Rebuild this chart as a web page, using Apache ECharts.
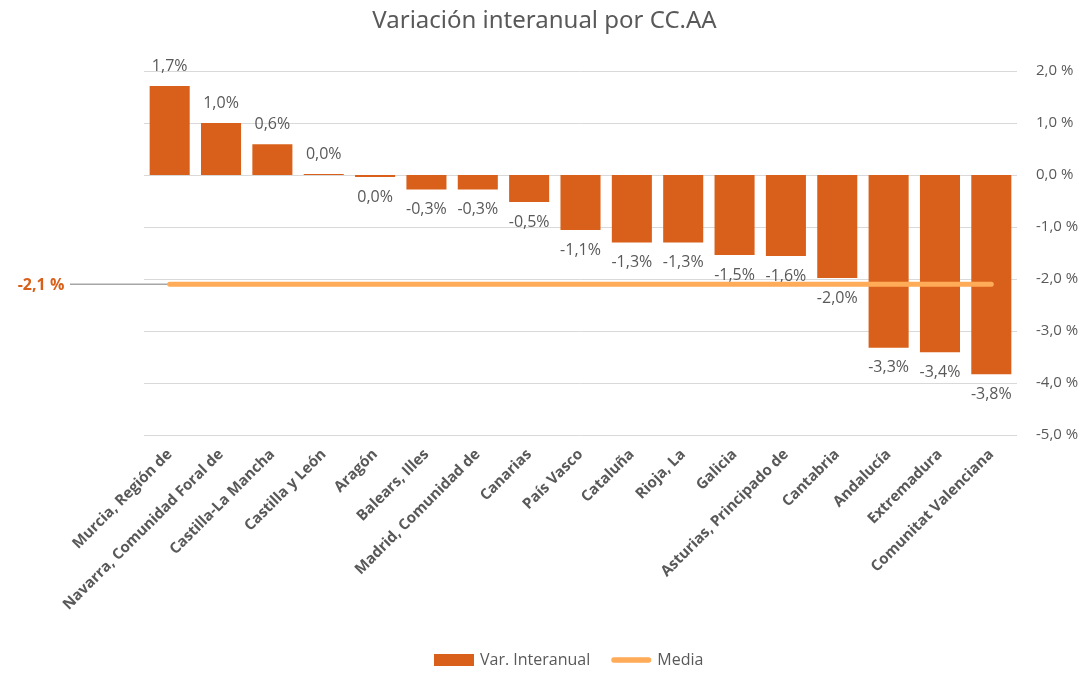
<!DOCTYPE html>
<html>
<head>
<meta charset="utf-8">
<script src="https://cdn.jsdelivr.net/npm/echarts@6/dist/echarts.min.js"></script>
<style>
  html, body { margin: 0; padding: 0; background: #fff; }
  #chart { width: 1089px; height: 675px; }
</style>
</head>
<body>
<div id="chart"></div>
<script>
// datos
var categorias = ['Murcia, Región de', 'Navarra, Comunidad Foral de', 'Castilla-La Mancha', 'Castilla y León',
    'Aragón', 'Balears, Illes', 'Madrid, Comunidad de', 'Canarias', 'País Vasco', 'Cataluña', 'Rioja, La',
    'Galicia', 'Asturias, Principado de', 'Cantabria', 'Andalucía', 'Extremadura', 'Comunitat Valenciana'];
var varInteranual = [1.71, 1.0, 0.59, 0.02, -0.04, -0.28, -0.28, -0.52, -1.06, -1.3, -1.3,
    -1.54, -1.56, -1.98, -3.32, -3.41, -3.83];
var media = [-2.1, -2.1, -2.1, -2.1, -2.1, -2.1, -2.1, -2.1, -2.1, -2.1, -2.1,
    -2.1, -2.1, -2.1, -2.1, -2.1, -2.1];
var valorMedia = -2.1;
var ejeY = { min: -5, max: 2, interval: 1 };

var naranja = '#D9601A';
var naranjaClaro = '#FFAB57';
var gris = '#595959';
var fuente = 'Open Sans';

function fmt(v, sep) {
    var s = v.toFixed(1);
    if (s === '-0.0') s = '0.0';
    return s.replace('.', ',') + (sep || '') + '%';
}

var myChart = echarts.init(document.getElementById('chart'));

var option = {
    animation: false,
    textStyle: { fontFamily: fuente },
    title: {
        text: 'Variación interanual por CC.AA',
        left: 'center',
        top: 4,
        textStyle: { fontFamily: 'Noto Sans', fontSize: 24, fontWeight: 'normal', color: gris }
    },
    legend: {
        left: 434,
        top: 652,
        padding: 0,
        itemGap: 21,
        itemWidth: 40,
        itemHeight: 12,
        textStyle: { fontFamily: fuente, fontSize: 16, color: gris, padding: [0, 0, 0, 1] },
        data: [
            { name: 'Var. Interanual', icon: 'rect' },
            { name: 'Media', icon: 'path://M3,0 L42,0 A3,3 0 0 1 42,6 L3,6 A3,3 0 0 1 3,0 Z', itemStyle: { color: naranjaClaro } }
        ]
    },
    grid: { left: 144, right: 72, top: 71, bottom: 240 },
    xAxis: {
        type: 'category',
        data: categorias,
        axisLine: { show: false },
        axisTick: { show: false },
        axisLabel: {
            interval: 0,
            rotate: 45,
            margin: 17,
            fontFamily: fuente,
            fontWeight: 'bold',
            fontSize: 15,
            color: gris
        }
    },
    yAxis: {
        type: 'value',
        position: 'right',
        min: ejeY.min,
        max: ejeY.max,
        interval: ejeY.interval,
        axisLine: { show: false },
        axisTick: { show: false },
        splitLine: { lineStyle: { color: '#D9D9D9', width: 1 } },
        axisLabel: {
            margin: 19,
            fontFamily: fuente,
            fontSize: 15,
            color: gris,
            formatter: function (v) { return fmt(v, ' '); }
        }
    },
    series: [
        {
            name: 'Var. Interanual',
            type: 'bar',
            barCategoryGap: '22%',
            itemStyle: { color: naranja },
            data: varInteranual.map(function (v) {
                return {
                    value: v,
                    label: { position: v >= 0 ? 'top' : 'bottom' }
                };
            }),
            label: {
                show: true,
                distance: 12,
                fontFamily: fuente,
                fontSize: 16,
                color: gris,
                formatter: function (p) { return fmt(p.value); }
            }
        },
        {
            name: 'Media',
            type: 'line',
            data: media,
            symbol: 'none',
            z: 5,
            lineStyle: { color: naranjaClaro, width: 5, cap: 'round' },
            itemStyle: { color: naranjaClaro }
        }
    ]
};

myChart.setOption(option);

// etiqueta de la media a la izquierda
var yMedia = myChart.convertToPixel({ yAxisIndex: 0 }, valorMedia);
var xIni = myChart.convertToPixel({ xAxisIndex: 0 }, categorias[0]);
myChart.setOption({
    graphic: [
        {
            type: 'line',
            shape: { x1: 70, y1: yMedia, x2: xIni, y2: yMedia },
            style: { stroke: '#A6A6A6', lineWidth: 1.5 },
            z: 1
        },
        {
            type: 'text',
            x: 41,
            y: yMedia + 1,
            style: {
                text: fmt(valorMedia, ' '),
                fill: naranja,
                font: 'bold 16px "Open Sans"',
                align: 'center',
                verticalAlign: 'middle'
            }
        }
    ]
});
</script>
</body>
</html>
